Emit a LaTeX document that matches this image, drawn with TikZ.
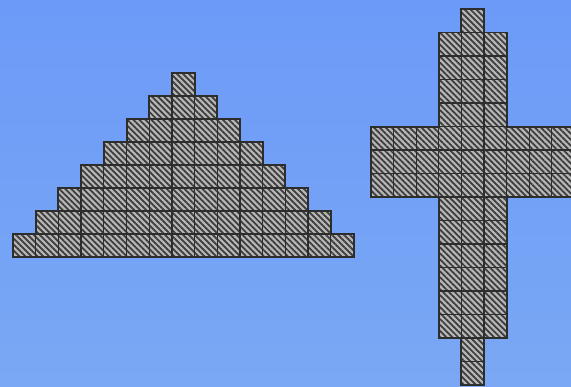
\documentclass[tikz,border=0pt]{standalone}
\usepackage{tikz}
\usetikzlibrary{patterns.meta}
\definecolor{sky}{RGB}{108,154,248}
\definecolor{skylow}{RGB}{122,168,244}
\definecolor{cellgray}{RGB}{182,182,182}
\definecolor{stripe}{RGB}{60,60,60}
\definecolor{gridline}{RGB}{45,45,45}

\begin{document}
\begin{tikzpicture}[
    x=0.03cm, y=-0.03cm,
    cell/.style={
        draw=gridline,
        line width=1.1pt,
        preaction={fill=cellgray},
        pattern={Lines[angle=-45, distance=3.6pt, line width=1.5pt]},
        pattern color=stripe
    },
    rim/.style={
        draw=gridline,
        line width=1.7pt,
        line join=miter
    }
]
% Background
\useasboundingbox (0,0) rectangle (571,386);
\clip (0,0) rectangle (571,386);
\shade[top color=sky, bottom color=skylow] (0,0) rectangle (571,386);

% Pyramid (rows of 1, 3, ..., 15 cells)
\begin{scope}[shift={(13,73)}, x=0.681cm, y=-0.69cm]
\foreach \r in {0,...,7} {
    \pgfmathtruncatemacro\lo{7-\r}
    \pgfmathtruncatemacro\hi{7+\r}
    \foreach \i in {\lo,...,\hi}
        \path[cell] (\i,\r) rectangle ++(1,1);
}
\draw[rim] (7,0) -| (8,1) -| (9,2) -| (10,3) -| (11,4) -| (12,5) -| (13,6) -| (14,7) -| (15,8)
    -- (0,8) |- (1,7) |- (2,6) |- (3,5) |- (4,4) |- (5,3) |- (6,2) |- (7,1) -- cycle;
\end{scope}

% Cross
\begin{scope}[shift={(371,9)}, x=0.678cm, y=-0.705cm]
\foreach \ia/\ib/\ja/\jb in {4/4/0/0, 3/5/1/4, 0/8/5/7, 3/5/8/13, 4/4/14/15}
    \foreach \i in {\ia,...,\ib}
        \foreach \j in {\ja,...,\jb}
            \path[cell] (\i,\j) rectangle ++(1,1);
\draw[rim] (4,0) -- (5,0) -- (5,1) -- (6,1) -- (6,5) -- (9,5) -- (9,8) -- (6,8) -- (6,14)
    -- (5,14) -- (5,16) -- (4,16) -- (4,14) -- (3,14) -- (3,8) -- (0,8) -- (0,5)
    -- (3,5) -- (3,1) -- (4,1) -- cycle;
\end{scope}
\end{tikzpicture}
\end{document}
